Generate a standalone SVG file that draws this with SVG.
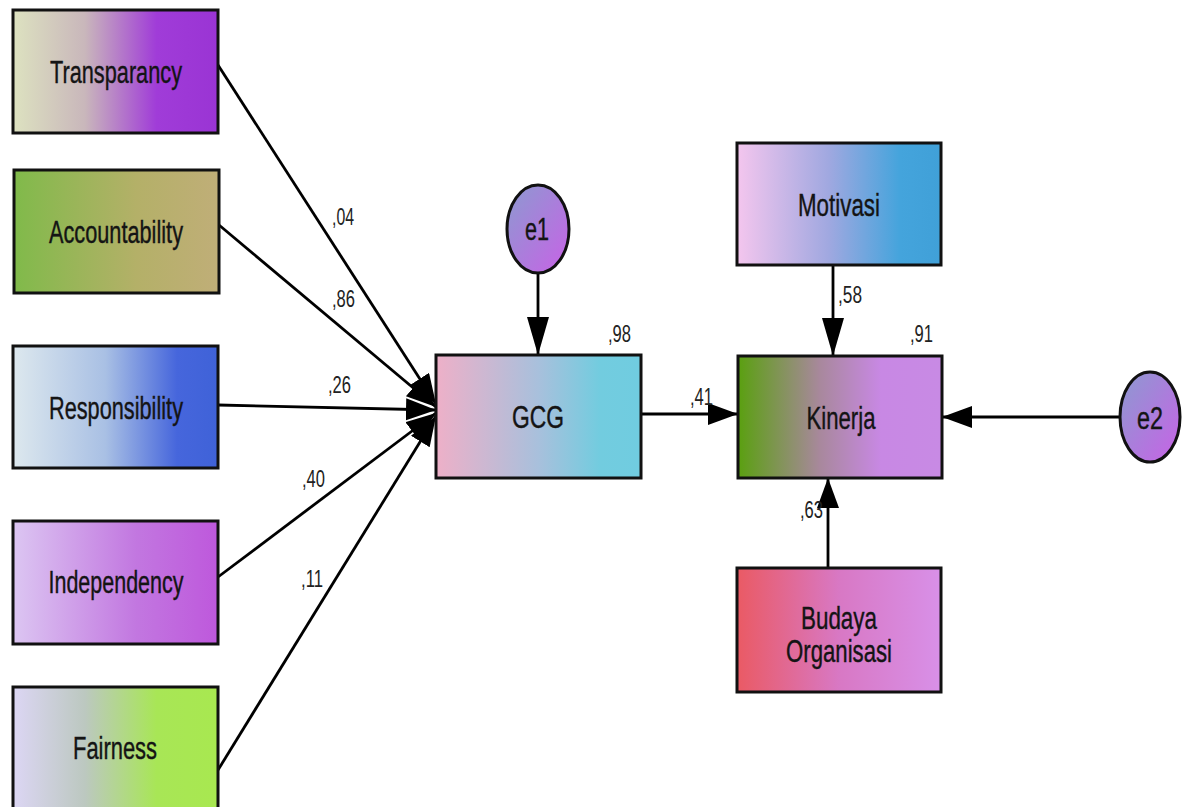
<svg xmlns="http://www.w3.org/2000/svg" width="1189" height="807" viewBox="0 0 1189 807">
<style>
.box{stroke:#111;stroke-width:3}
.lbl{font-family:"Liberation Sans",Arial,sans-serif;font-size:31px;fill:#141414;stroke:#141414;stroke-width:0.4;text-anchor:middle}
.num{font-family:"Liberation Sans",Arial,sans-serif;font-size:23px;fill:#222}
.con{stroke:#000;stroke-width:2.8;fill:none}
</style>
<defs>
<marker id="ah" markerUnits="userSpaceOnUse" markerWidth="40" markerHeight="24" refX="38" refY="11" orient="auto">
<path d="M0,0 L38,11 L0,22 z" fill="#000"/>
</marker>
<marker id="ahs" markerUnits="userSpaceOnUse" markerWidth="32" markerHeight="24" refX="30" refY="11" orient="auto">
<path d="M0,0 L30,11 L0,22 z" fill="#000"/>
</marker>
<linearGradient id="gT"><stop offset="0" stop-color="#dde2c0"/><stop offset="0.35" stop-color="#c9b7bb"/><stop offset="0.7" stop-color="#a03cd8"/><stop offset="1" stop-color="#9a34d4"/></linearGradient>
<linearGradient id="gA"><stop offset="0" stop-color="#80ba4a"/><stop offset="0.6" stop-color="#b4b068"/><stop offset="1" stop-color="#c0ae78"/></linearGradient>
<linearGradient id="gR"><stop offset="0" stop-color="#dde8ee"/><stop offset="0.45" stop-color="#a9c0e4"/><stop offset="0.8" stop-color="#4666dc"/><stop offset="1" stop-color="#3f62d8"/></linearGradient>
<linearGradient id="gI"><stop offset="0" stop-color="#dcc6f2"/><stop offset="0.6" stop-color="#c277e0"/><stop offset="1" stop-color="#be58dc"/></linearGradient>
<linearGradient id="gF"><stop offset="0" stop-color="#dcd6f4"/><stop offset="0.35" stop-color="#bcc8c0"/><stop offset="0.7" stop-color="#a8e656"/><stop offset="1" stop-color="#a8e850"/></linearGradient>
<linearGradient id="gG"><stop offset="0" stop-color="#eeb0c8"/><stop offset="0.5" stop-color="#a8c0dc"/><stop offset="0.8" stop-color="#72ccdf"/><stop offset="1" stop-color="#70cce0"/></linearGradient>
<linearGradient id="gM"><stop offset="0" stop-color="#f4c6ee"/><stop offset="0.45" stop-color="#a0a8e0"/><stop offset="0.8" stop-color="#44a4dc"/><stop offset="1" stop-color="#40a0d8"/></linearGradient>
<linearGradient id="gK"><stop offset="0" stop-color="#5aa010"/><stop offset="0.4" stop-color="#a8889c"/><stop offset="0.7" stop-color="#c888e4"/><stop offset="1" stop-color="#c88ae4"/></linearGradient>
<linearGradient id="gB"><stop offset="0" stop-color="#ea5a64"/><stop offset="0.5" stop-color="#d878c4"/><stop offset="1" stop-color="#d890e8"/></linearGradient>
<linearGradient id="gE" x1="0" y1="0" x2="1" y2="1"><stop offset="0" stop-color="#8c9ad0"/><stop offset="1" stop-color="#c862e6"/></linearGradient>
</defs>
<rect width="1189" height="807" fill="#fff"/>

<g id="connectors">
<line class="con" x1="218" y1="65" x2="436" y2="404" marker-end="url(#ahs)"/>
<line class="con" x1="219" y1="225" x2="436" y2="407" marker-end="url(#ahs)"/>
<line class="con" x1="218" y1="405" x2="436" y2="410" marker-end="url(#ahs)"/>
<line class="con" x1="218" y1="577" x2="436" y2="413" marker-end="url(#ahs)"/>
<line class="con" x1="218" y1="770" x2="436" y2="416" marker-end="url(#ahs)"/>
<line class="con" x1="538" y1="272" x2="538" y2="355" marker-end="url(#ah)"/>
<line class="con" x1="641" y1="414" x2="738" y2="414" marker-end="url(#ahs)"/>
<line class="con" x1="833" y1="265" x2="833" y2="356" marker-end="url(#ah)"/>
<line class="con" x1="828" y1="568" x2="828" y2="478" marker-end="url(#ahs)"/>
<line class="con" x1="1120" y1="417" x2="942" y2="417" marker-end="url(#ahs)"/>
<text class="num" x="332" y="225" textLength="22" lengthAdjust="spacingAndGlyphs">,04</text>
<text class="num" x="332" y="307" textLength="23" lengthAdjust="spacingAndGlyphs">,86</text>
<text class="num" x="328" y="393" textLength="23" lengthAdjust="spacingAndGlyphs">,26</text>
<text class="num" x="302" y="487" textLength="23" lengthAdjust="spacingAndGlyphs">,40</text>
<text class="num" x="301" y="587" textLength="22" lengthAdjust="spacingAndGlyphs">,11</text>
<text class="num" x="608" y="342" textLength="23" lengthAdjust="spacingAndGlyphs">,98</text>
<text class="num" x="910" y="342" textLength="23" lengthAdjust="spacingAndGlyphs">,91</text>
<text class="num" x="690" y="405" textLength="23" lengthAdjust="spacingAndGlyphs">,41</text>
<text class="num" x="838" y="303" textLength="24" lengthAdjust="spacingAndGlyphs">,58</text>
<text class="num" x="800" y="518" textLength="23" lengthAdjust="spacingAndGlyphs">,63</text>
</g>

<g id="Transparancy"><rect class="box" x="13" y="10" width="205" height="123" fill="url(#gT)"/><text class="lbl" x="116" y="83" textLength="132" lengthAdjust="spacingAndGlyphs">Transparancy</text></g>
<g id="Accountability"><rect class="box" x="14" y="170" width="205" height="123" fill="url(#gA)"/><text class="lbl" x="116" y="243" textLength="134" lengthAdjust="spacingAndGlyphs">Accountability</text></g>
<g id="Responsibility"><rect class="box" x="13" y="346" width="205" height="122" fill="url(#gR)"/><text class="lbl" x="116" y="419" textLength="134" lengthAdjust="spacingAndGlyphs">Responsibility</text></g>
<g id="Independency"><rect class="box" x="13" y="521" width="205" height="123" fill="url(#gI)"/><text class="lbl" x="116" y="593" textLength="135" lengthAdjust="spacingAndGlyphs">Independency</text></g>
<g id="Fairness"><rect class="box" x="13" y="687" width="205" height="123" fill="url(#gF)"/><text class="lbl" x="115" y="759" textLength="84" lengthAdjust="spacingAndGlyphs">Fairness</text></g>
<g id="GCG"><rect class="box" x="436" y="355" width="205" height="123" fill="url(#gG)"/><text class="lbl" x="538" y="428" textLength="52" lengthAdjust="spacingAndGlyphs">GCG</text></g>
<g id="e1"><ellipse class="box" cx="538" cy="229" rx="31" ry="44" fill="url(#gE)"/><text class="lbl" x="537" y="240" textLength="24" lengthAdjust="spacingAndGlyphs">e1</text></g>
<g id="Motivasi"><rect class="box" x="737" y="143" width="204" height="122" fill="url(#gM)"/><text class="lbl" x="839" y="216" textLength="82" lengthAdjust="spacingAndGlyphs">Motivasi</text></g>
<g id="Kinerja"><rect class="box" x="738" y="356" width="204" height="122" fill="url(#gK)"/><text class="lbl" x="841" y="429" textLength="69" lengthAdjust="spacingAndGlyphs">Kinerja</text></g>
<g id="e2"><ellipse class="box" cx="1150" cy="417" rx="30" ry="45" fill="url(#gE)"/><text class="lbl" x="1150" y="429" textLength="26" lengthAdjust="spacingAndGlyphs">e2</text></g>
<g id="BudayaOrganisasi"><rect class="box" x="737" y="568" width="204" height="124" fill="url(#gB)"/><text class="lbl" x="839" y="629" textLength="76" lengthAdjust="spacingAndGlyphs">Budaya</text><text class="lbl" x="839" y="662" textLength="106" lengthAdjust="spacingAndGlyphs">Organisasi</text></g>
</svg>
